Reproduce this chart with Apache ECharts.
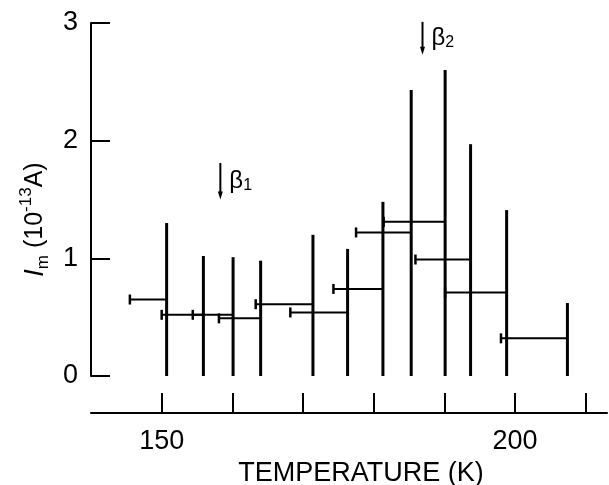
<!DOCTYPE html>
<html>
<head>
    <meta http-equiv="Content-Type" content="text/html; charset=UTF-8">
    <title>Im vs temperature</title>
    <script type="text/javascript" src="https://cdn.jsdelivr.net/npm/echarts@6.0.0/dist/echarts.min.js"></script>
    <style>
        html, body { margin: 0; padding: 0; background: #fff; }
    </style>
</head>
<body>
<div id="view" style="width:609px;height:485px;"></div>
</body>
<script type="text/javascript">

    // vertical bars: temperature (K) and height (10^-13 A)
    var stemT = [150.7, 155.9, 160.1, 164.0, 171.4, 176.3, 181.3, 185.3, 190.1, 193.7, 198.8, 207.4];
    var stemTop = [1.30, 1.02, 1.01, 0.98, 1.20, 1.08, 1.48, 2.43, 2.60, 1.97, 1.41, 0.62];

    // horizontal bars: start temperature (capped end), they run to the stem above
    var segStart = [145.5, 150.0, 154.4, 158.1, 163.3, 168.2, 174.3, 177.5, 181.4, 185.9, 190.1, 198.0];
    var segValue = [0.65, 0.52, 0.52, 0.49, 0.61, 0.54, 0.74, 1.22, 1.31, 0.99, 0.71, 0.32];

    // peak markers
    var markT = [158.3, 186.9];
    var markFrom = [1.81, 3.01];
    var markTo = [1.50, 2.73];
    var markName = ['1', '2'];

    var xTicks = [150, 160, 170, 180, 190, 200, 210];
    var xLabels = [150, 200];

    var font = 'Liberation Sans';
    var myChart = echarts.init(document.getElementById("view"), null, {renderer: 'canvas'});

    var stemData = [];
    for (var i = 0; i < stemT.length; i++) {
        stemData.push([stemT[i], stemTop[i]]);
    }
    var segData = [];
    for (var j = 0; j < segStart.length; j++) {
        segData.push([segStart[j], stemT[j], segValue[j]]);
    }
    var markData = [];
    for (var k = 0; k < markT.length; k++) {
        markData.push([markT[k], markFrom[k], markTo[k]]);
    }

    function renderStem(params, api) {
        var p0 = api.coord([api.value(0), 0]);
        var p1 = api.coord([api.value(0), api.value(1)]);
        return {
            type: 'line',
            shape: {x1: p0[0], y1: p0[1], x2: p1[0], y2: p1[1]},
            style: {stroke: '#000', lineWidth: 3}
        };
    }

    function renderSeg(params, api) {
        var a = api.coord([api.value(0), api.value(2)]);
        var b = api.coord([api.value(1), api.value(2)]);
        return {
            type: 'group',
            children: [
                {type: 'line', shape: {x1: a[0], y1: a[1], x2: b[0], y2: b[1]}, style: {stroke: '#000', lineWidth: 2}},
                {type: 'line', shape: {x1: a[0], y1: a[1] - 5, x2: a[0], y2: a[1] + 5}, style: {stroke: '#000', lineWidth: 2.5}}
            ]
        };
    }

    function renderMark(params, api) {
        var top = api.coord([api.value(0), api.value(1)]);
        var bot = api.coord([api.value(0), api.value(2)]);
        var x = top[0];
        return {
            type: 'group',
            children: [
                {type: 'line', shape: {x1: x, y1: top[1], x2: x, y2: bot[1] - 6}, style: {stroke: '#000', lineWidth: 2}},
                {type: 'polygon', shape: {points: [[x - 2.5, bot[1] - 8], [x + 2.5, bot[1] - 8], [x, bot[1]]]}, style: {fill: '#000'}},
                {
                    type: 'text',
                    x: x + 9,
                    y: (top[1] + bot[1]) / 2,
                    style: {
                        text: '\u03b2{s|' + markName[params.dataIndex] + '}',
                        fill: '#000',
                        font: '24px ' + font,
                        verticalAlign: 'middle',
                        rich: {
                            s: {fontSize: 16, fontFamily: font, fill: '#000', verticalAlign: 'bottom'}
                        }
                    }
                }
            ]
        };
    }

    var option = {
        animation: false,
        backgroundColor: '#fff',
        grid: {
            left: 91,
            right: 2,
            top: 23,
            bottom: 109,
            outerBoundsMode: 'none'
        },
        xAxis: {
            type: 'value',
            min: 140,
            max: 213,
            offset: 37,
            axisLine: {onZero: false, lineStyle: {color: '#000', width: 2}},
            axisTick: {inside: true, length: 20, customValues: xTicks, lineStyle: {color: '#000', width: 2}},
            axisLabel: {customValues: xLabels, color: '#000', fontSize: 27, fontFamily: font, margin: 15},
            splitLine: {show: false},
            name: 'TEMPERATURE (K)',
            nameLocation: 'middle',
            nameGap: 45,
            nameTextStyle: {color: '#000', fontSize: 27, fontFamily: font, padding: [0, 0, 0, 24]}
        },
        yAxis: {
            type: 'value',
            min: 0,
            max: 3,
            interval: 1,
            axisLine: {show: true, onZero: false, lineStyle: {color: '#000', width: 2}},
            axisTick: {show: true, inside: true, length: 19, lineStyle: {color: '#000', width: 2}},
            axisLabel: {color: '#000', fontSize: 27, fontFamily: font, margin: 13},
            splitLine: {show: false},
            name: '{i|I}{sub|m} (10{sup|-13}A)',
            nameLocation: 'middle',
            nameRotate: 90,
            nameGap: 39,
            nameTextStyle: {
                color: '#000',
                fontSize: 25,
                lineHeight: 34,
                fontFamily: font,
                padding: [0, 40, 0, 0],
                rich: {
                    i: {fontSize: 27, lineHeight: 34, fontStyle: 'italic', fontFamily: font, color: '#000'},
                    sub: {fontSize: 17, fontFamily: font, color: '#000', verticalAlign: 'bottom'},
                    sup: {fontSize: 17, fontFamily: font, color: '#000', verticalAlign: 'top'}
                }
            }
        },
        series: [
            {type: 'custom', renderItem: renderStem, data: stemData, silent: true},
            {type: 'custom', renderItem: renderSeg, data: segData, silent: true},
            {type: 'custom', renderItem: renderMark, data: markData, silent: true}
        ]
    };
    myChart.setOption(option);
</script>
</html>
